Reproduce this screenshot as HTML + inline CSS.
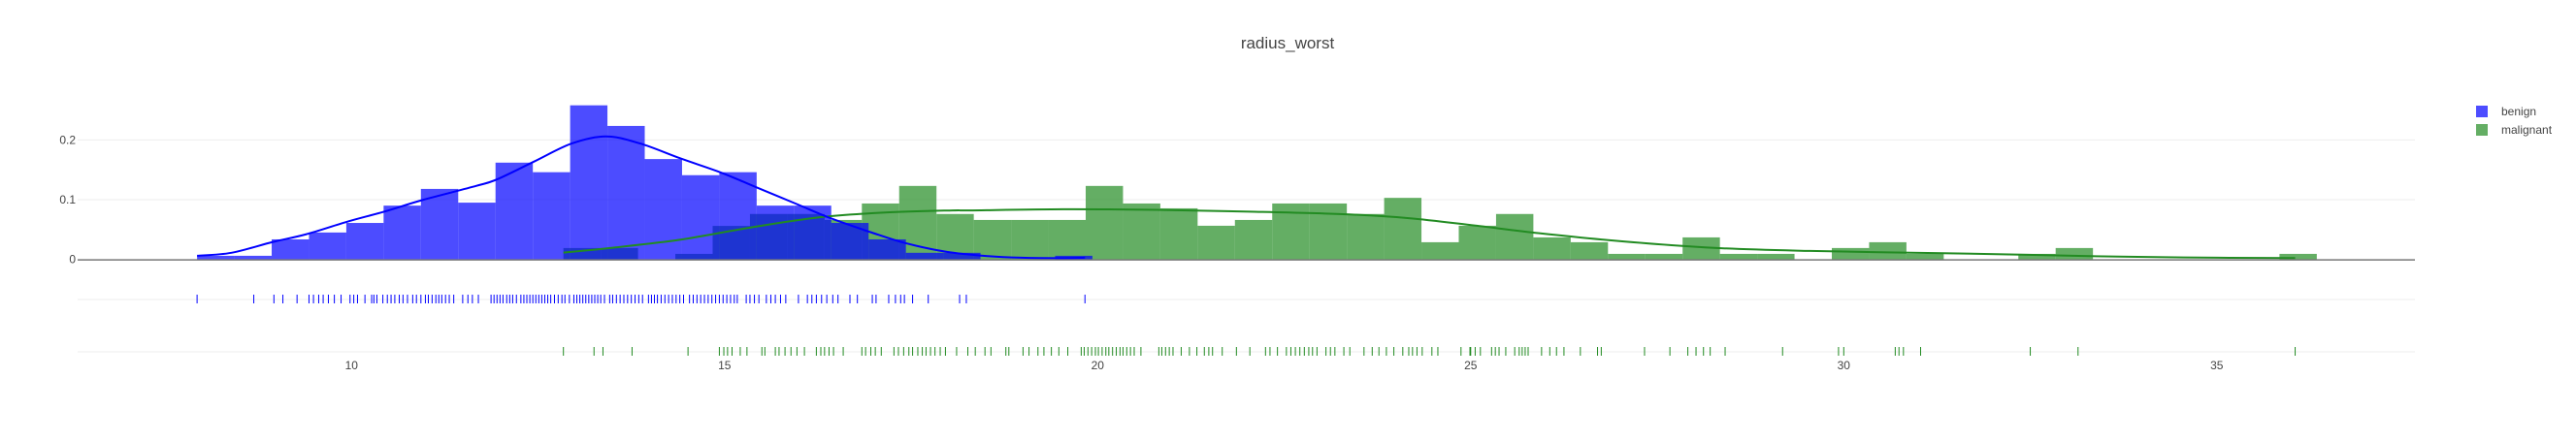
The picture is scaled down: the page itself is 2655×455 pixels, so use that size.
<!DOCTYPE html>
<html><head><meta charset="utf-8"><style>
html,body{margin:0;padding:0;background:#fff;}
svg text{font-family:"Liberation Sans",Arial,sans-serif;fill:#444;}
</style></head><body>
<svg id="chart" width="2655" height="450" viewBox="0 0 2655 450" xmlns="http://www.w3.org/2000/svg">
<text x="1327" y="50" text-anchor="middle" font-size="17">radius_worst</text>
<g id="grid"></g>
<g id="bars"></g>
<g id="curves"></g>
<g id="rugs"></g>
<g id="axes"></g>
<g>
<g><rect x="2552" y="109" width="12" height="12" fill="#4d4dff"/><text x="2578" y="119" font-size="12">benign</text></g>
<g><rect x="2552" y="128" width="12" height="12" fill="#64ae64"/><text x="2578" y="138" font-size="12">malignant</text></g>
</g>
</svg>
<script>
const binWidth = 0.5;
const benignStart = 7.93;
const benignHist = [0.006,0.006,0.0335,0.045,0.061,0.090,0.118,0.095,0.162,0.146,0.258,0.2235,0.168,0.141,0.146,0.090,0.090,0.061,0.0335,0.011,0.011,0,0,0.006];
const malignantStart = 12.84;
const malignantHist = [0.019,0.019,0,0.0092,0.056,0.076,0.076,0.066,0.0936,0.123,0.076,0.066,0.066,0.066,0.123,0.0936,0.0855,0.0563,0.066,0.0936,0.0936,0.076,0.103,0.0287,0.0563,0.076,0.0368,0.0287,0.0092,0.0092,0.0368,0.0092,0.0092,0,0.019,0.0287,0.0092,0,0,0.0092,0.019,0,0,0,0,0,0.0092];
const benignCurveX = [7.93,8.39,8.94,9.39,9.94,10.44,10.94,11.67,11.95,12.45,12.95,13.41,13.87,14.41,14.96,15.42,15.97,16.42,16.97,17.43,17.98,18.53,18.98,19.53,19.83];
const benignCurveY = [0.006,0.011,0.029,0.042,0.063,0.080,0.099,0.123,0.134,0.164,0.194,0.206,0.194,0.169,0.145,0.121,0.0925,0.069,0.045,0.027,0.0125,0.0054,0.0027,0.002,0.0027];
const malignantCurveX = [12.84,13.5,14.41,15.33,16.24,17.15,18.06,18.29,19.54,20.79,22.04,23.29,24.17,25.05,25.92,27.05,28.3,29.55,30.8,32.05,33.3,34.56,36.05];
const malignantCurveY = [0.0114,0.0195,0.033,0.053,0.070,0.0785,0.082,0.082,0.084,0.083,0.080,0.0757,0.069,0.0568,0.0438,0.030,0.019,0.0141,0.0114,0.0087,0.0054,0.0032,0.0022];
const benignRug = [7.93,8.69,8.96,9.08,9.27,9.43,9.49,9.56,9.62,9.69,9.77,9.86,9.98,10.03,10.08,10.18,10.27,10.30,10.34,10.42,10.48,10.53,10.58,10.64,10.69,10.75,10.82,10.87,10.93,10.99,11.03,11.08,11.13,11.17,11.21,11.26,11.31,11.37,11.49,11.56,11.62,11.70,11.87,11.91,11.95,11.99,12.03,12.08,12.12,12.16,12.21,12.27,12.31,12.35,12.39,12.43,12.47,12.51,12.55,12.59,12.63,12.67,12.72,12.77,12.82,12.86,12.92,12.98,13.02,13.06,13.10,13.14,13.18,13.22,13.26,13.30,13.34,13.39,13.46,13.50,13.55,13.60,13.65,13.70,13.75,13.80,13.85,13.90,13.98,14.02,14.06,14.10,14.15,14.20,14.25,14.30,14.35,14.40,14.45,14.53,14.58,14.63,14.68,14.73,14.78,14.83,14.88,14.93,14.98,15.03,15.08,15.13,15.17,15.29,15.34,15.40,15.46,15.56,15.62,15.68,15.75,15.82,15.99,16.11,16.17,16.23,16.30,16.37,16.45,16.52,16.68,16.78,16.98,17.03,17.20,17.29,17.36,17.41,17.52,17.73,18.15,18.24,19.83];
const malignantRug = [12.84,13.25,13.37,13.76,14.51,14.93,14.99,15.04,15.10,15.21,15.30,15.50,15.54,15.68,15.73,15.81,15.89,15.97,16.07,16.23,16.29,16.34,16.40,16.46,16.59,16.84,16.89,16.96,17.02,17.10,17.27,17.33,17.40,17.47,17.52,17.59,17.65,17.70,17.76,17.82,17.89,17.96,18.11,18.26,18.36,18.49,18.57,18.77,18.81,19.00,19.08,19.20,19.28,19.38,19.48,19.60,19.78,19.82,19.87,19.92,19.97,20.01,20.06,20.11,20.15,20.20,20.25,20.30,20.34,20.39,20.44,20.49,20.58,20.82,20.86,20.91,20.96,21.01,21.12,21.23,21.33,21.43,21.49,21.54,21.67,21.86,22.04,22.25,22.31,22.41,22.53,22.59,22.65,22.71,22.77,22.83,22.88,22.94,23.06,23.12,23.18,23.30,23.38,23.57,23.68,23.77,23.87,23.97,24.09,24.17,24.22,24.28,24.35,24.48,24.56,24.87,24.99,25.00,25.06,25.13,25.28,25.33,25.38,25.47,25.59,25.65,25.69,25.73,25.77,25.95,26.06,26.15,26.25,26.47,26.70,26.75,27.33,27.67,27.91,28.02,28.12,28.21,28.41,29.18,29.93,30.00,30.69,30.74,30.80,31.03,32.50,33.14,36.05];
const xTicks = [10,15,20,25,30,35];
const yTicks = [0,0.1,0.2];

const NS='http://www.w3.org/2000/svg';
const plotL=80, plotR=2489;
function xs(v){return 362.3+(v-10)*76.9;}
function ys(v){return 267.6-v*616;}
const rugBenignY=309, rugMalY=363;
function mk(tag,parent,attrs){const e=document.createElementNS(NS,tag);for(const k in attrs)e.setAttribute(k,attrs[k]);parent.appendChild(e);return e;}

const grid=document.getElementById('grid');
yTicks.forEach(t=>{if(t===0)return;
  const l=mk('line',grid,{x1:plotL,x2:plotR,y1:ys(t),y2:ys(t),stroke:'#eee','stroke-width':1});
  
  
});
[rugBenignY,rugMalY].forEach(y=>{
  const l=mk('line',grid,{x1:plotL,x2:plotR,y1:y,y2:y,stroke:'#eee','stroke-width':1});
  
  
});

const bars=document.getElementById('bars');
function drawHist(start,vals,color,name){
  vals.forEach((v,i)=>{if(v<=0)return;
    const x0=xs(start+i*binWidth), x1=xs(start+(i+1)*binWidth);
    const r=mk('rect',bars,{x:x0,y:ys(v),width:x1-x0,height:ys(0)-ys(v),fill:color,'fill-opacity':0.7});
    
    
  });
}
drawHist(malignantStart,malignantHist,'rgb(34,139,34)','malignant-bar');
drawHist(benignStart,benignHist,'rgb(0,0,255)','benign-bar');

const curves=document.getElementById('curves');
function curve(xa,ya,color,name){
  let d='';
  for(let i=0;i<xa.length;i++){
    const px=xs(xa[i]),py=ys(ya[i]);
    if(i===0)d+='M'+px+','+py;
    else{const pxp=xs(xa[i-1]),pyp=ys(ya[i-1]);
      const px0=i>1?xs(xa[i-2]):pxp,py0=i>1?ys(ya[i-2]):pyp;
      const px2=i<xa.length-1?xs(xa[i+1]):px,py2=i<xa.length-1?ys(ya[i+1]):py;
      const c1x=pxp+(px-px0)/6,c1y=pyp+(py-py0)/6,c2x=px-(px2-pxp)/6,c2y=py-(py2-pyp)/6;
      d+=' C'+c1x+','+c1y+' '+c2x+','+c2y+' '+px+','+py;}
  }
  const p=mk('path',curves,{d:d,fill:'none',stroke:color,'stroke-width':2});
  
  
}
curve(malignantCurveX,malignantCurveY,'#228b22','malignant-kde-curve');
curve(benignCurveX,benignCurveY,'#0000ff','benign-kde-curve');

const rugs=document.getElementById('rugs');
benignRug.forEach(v=>{
  const l=mk('line',rugs,{x1:xs(v),x2:xs(v),y1:rugBenignY-5,y2:rugBenignY+4,stroke:'#0000ff','stroke-width':1});
  
  
});
malignantRug.forEach(v=>{
  const l=mk('line',rugs,{x1:xs(v),x2:xs(v),y1:rugMalY-5,y2:rugMalY+4,stroke:'#228b22','stroke-width':1});
  
  
});

const axes=document.getElementById('axes');
const zl=mk('line',axes,{x1:plotL,x2:plotR,y1:ys(0)+0.5,y2:ys(0)+0.5,stroke:'#777','stroke-width':1.5});


yTicks.forEach(t=>{
  const tx=mk('text',axes,{x:78,y:ys(t)+4,'text-anchor':'end','font-size':12});
  tx.textContent=String(t);
  
  
});
xTicks.forEach(t=>{
  const tx=mk('text',axes,{x:xs(t),y:381,'text-anchor':'middle','font-size':12});
  tx.textContent=String(t);
  
  
});
</script>
</body></html>
